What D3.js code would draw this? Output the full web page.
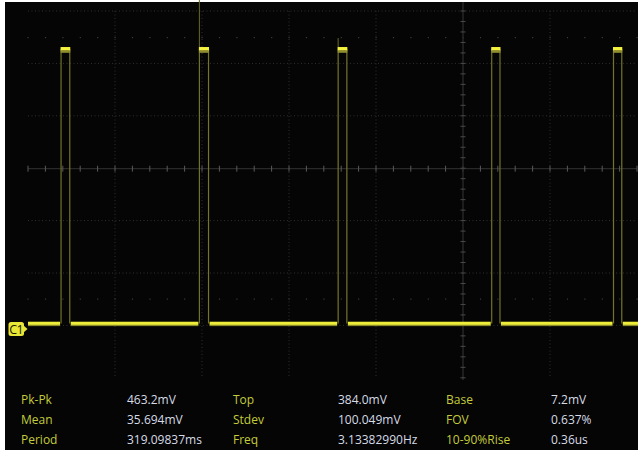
<!DOCTYPE html>
<html><head><meta charset="utf-8">
<script src="https://cdn.jsdelivr.net/npm/d3@7"></script>
<style>html,body{margin:0;padding:0;background:#fff;}svg{display:block;}</style>
</head><body>
<script>
// ---- data ----
// time in ms (200 ms/div), voltage in mV
const pulseStarts = [76, 394, 713, 1066, 1346];
const pulseEnds   = [96, 415, 733, 1085, 1365];
const baseLevel = 7.2;
const topLevel = 384.0;
const spikeTimes = [394, 713];
const spikeTops  = [452, 399];
const measureLabels = [["Pk-Pk", "Top", "Base"], ["Mean", "Stdev", "FOV"], ["Period", "Freq", "10-90%Rise"]];
const measureValues = [["463.2mV", "384.0mV", "7.2mV"], ["35.694mV", "100.049mV", "0.637%"], ["319.09837ms", "3.13382990Hz", "0.36us"]];
const channelLabel = "C1";

const W = 638, H = 450;
const svg = d3.select("body").append("svg").attr("width", W).attr("height", H);
svg.append("rect").attr("x", 5).attr("y", 2).attr("width", W - 5).attr("height", H - 2).attr("fill", "#050505");

const x = d3.scaleLinear().domain([0, 1400]).range([28, 637]);
const y = d3.scaleLinear().domain([-68.4, 436.2]).range([378.6, 11]);
const divX = 87, divY = 52.4;
const g = svg.append("g");

// grid dotted lines
const vx = d3.range(1, 7).map(k => 28 + k * divX).filter(v => Math.abs(v - 463) > 1);
g.selectAll(".vg").data(vx).enter().append("line")
  .attr("x1", d => d).attr("x2", d => d).attr("y1", 11).attr("y2", 378)
  .attr("stroke", "#303030").attr("stroke-width", 1).attr("stroke-dasharray", "1,2.5");
const hy = d3.range(0, 7).map(k => 11 + k * divY).filter(v => Math.abs(v - 168.2) > 1);
g.selectAll(".hg").data(hy).enter().append("line")
  .attr("x1", 28).attr("x2", 637).attr("y1", d => d).attr("y2", d => d)
  .attr("stroke", "#303030").attr("stroke-width", 1).attr("stroke-dasharray", "1,2.5");
// half-row dots
[37.5, 299].forEach(yy => {
  g.selectAll(null).data(d3.range(0, 36)).enter().append("rect")
    .attr("x", d => 27.5 + d * divX / 5).attr("y", yy - 0.5).attr("width", 1.2).attr("height", 1.2)
    .attr("fill", "#3c3c3c");
});
// center axes
const cy = 168.7, cx = 463;
g.append("line").attr("x1", 28).attr("x2", 637).attr("y1", cy).attr("y2", cy).attr("stroke", "#333").attr("stroke-width", 1);
g.selectAll(".ht").data(d3.range(0, 36)).enter().append("line")
  .attr("x1", d => 28 + d * divX / 5).attr("x2", d => 28 + d * divX / 5)
  .attr("y1", cy - 3).attr("y2", cy + 3).attr("stroke", "#5a5a5a").attr("stroke-width", 1);
g.append("line").attr("x1", cx).attr("x2", cx).attr("y1", 2).attr("y2", 380).attr("stroke", "#262626").attr("stroke-width", 1.5);
g.selectAll(".vt").data(d3.range(0, 36)).enter().append("line")
  .attr("x1", cx - 2.5).attr("x2", cx + 2.5)
  .attr("y1", d => 11 + d * divY / 5).attr("y2", d => 11 + d * divY / 5)
  .attr("stroke", "#4a4a4a").attr("stroke-width", 1);

// trace
const tr = svg.append("g");
const edgeCol = "#74742a", brightCol = "#eeee3a";
// baseline segments
const segStarts = [0].concat(pulseEnds);
const segEnds = pulseStarts.concat([1410]);
tr.selectAll(".base").data(segStarts).enter().append("rect")
  .attr("x", (d, i) => x(d) + (i ? 1 : 0)).attr("width", (d, i) => Math.min(x(segEnds[i]), 638) - x(d) - (i ? 1 : 0) - (i < pulseStarts.length ? 1 : 0))
  .attr("y", y(baseLevel) - 1.8).attr("height", 3.2).attr("fill", brightCol);
tr.selectAll(".base2").data(segStarts).enter().append("rect")
  .attr("x", (d, i) => x(d) + (i ? 1 : 0)).attr("width", (d, i) => Math.min(x(segEnds[i]), 638) - x(d) - (i ? 1 : 0) - (i < pulseStarts.length ? 1 : 0))
  .attr("y", y(baseLevel) + 1.4).attr("height", 1.2).attr("fill", "#8a8a28");
// edges
const edges = pulseStarts.concat(pulseEnds);
tr.selectAll(".edge").data(edges).enter().append("line")
  .attr("x1", d => x(d)).attr("x2", d => x(d)).attr("y1", y(topLevel)).attr("y2", y(baseLevel))
  .attr("stroke", edgeCol).attr("stroke-width", 1.2);
// spikes
tr.selectAll(".spike").data(spikeTimes).enter().append("line")
  .attr("x1", d => x(d)).attr("x2", d => x(d)).attr("y1", (d, i) => y(spikeTops[i])).attr("y2", y(topLevel))
  .attr("stroke", "#6a6a28").attr("stroke-width", 1);
// high level
tr.selectAll(".top").data(pulseStarts).enter().append("rect")
  .attr("x", d => x(d) - 0.5).attr("width", (d, i) => x(pulseEnds[i]) - x(d) + 1)
  .attr("y", y(topLevel) - 2).attr("height", 3.6).attr("fill", "#f4f23e");
tr.selectAll(".top2").data(pulseStarts).enter().append("rect")
  .attr("x", d => x(d) - 0.5).attr("width", (d, i) => x(pulseEnds[i]) - x(d) + 1)
  .attr("y", y(topLevel) + 1.6).attr("height", 2.2).attr("fill", "#8e8c30");

// channel label
const ly = y(baseLevel);
svg.append("path").attr("d", `M23,${ly + 1.5} L27.5,${ly + 5.5} L23,${ly + 9.5} Z`).attr("fill", "#e8e636");
svg.append("rect").attr("x", 8.5).attr("y", ly - 1.5).attr("width", 15.5).attr("height", 14).attr("rx", 2.5).attr("fill", "#e8e636");
svg.append("text").attr("x", 16.2).attr("y", ly + 5.8).attr("text-anchor", "middle").attr("dominant-baseline", "central")
  .attr("font-family", "Open Sans, sans-serif").attr("font-size", 12.5).attr("letter-spacing", -0.5).attr("fill", "#1a1a00").text(channelLabel);

// measurements
const labX = [21, 233, 446], valX = [127, 338, 551], rowY = [399, 419, 439];
measureLabels.forEach((row, r) => row.forEach((t, c) => {
  svg.append("text").attr("x", labX[c]).attr("y", rowY[r]).attr("dominant-baseline", "central")
    .attr("font-family", "Open Sans, sans-serif").attr("font-size", 12).attr("fill", "#c4cc3a").text(t);
  svg.append("text").attr("x", valX[c]).attr("y", rowY[r]).attr("dominant-baseline", "central")
    .attr("font-family", "Open Sans, sans-serif").attr("font-size", 12).attr("fill", "#d6dbe6").text(measureValues[r][c]);
}));
</script>
</body></html>
